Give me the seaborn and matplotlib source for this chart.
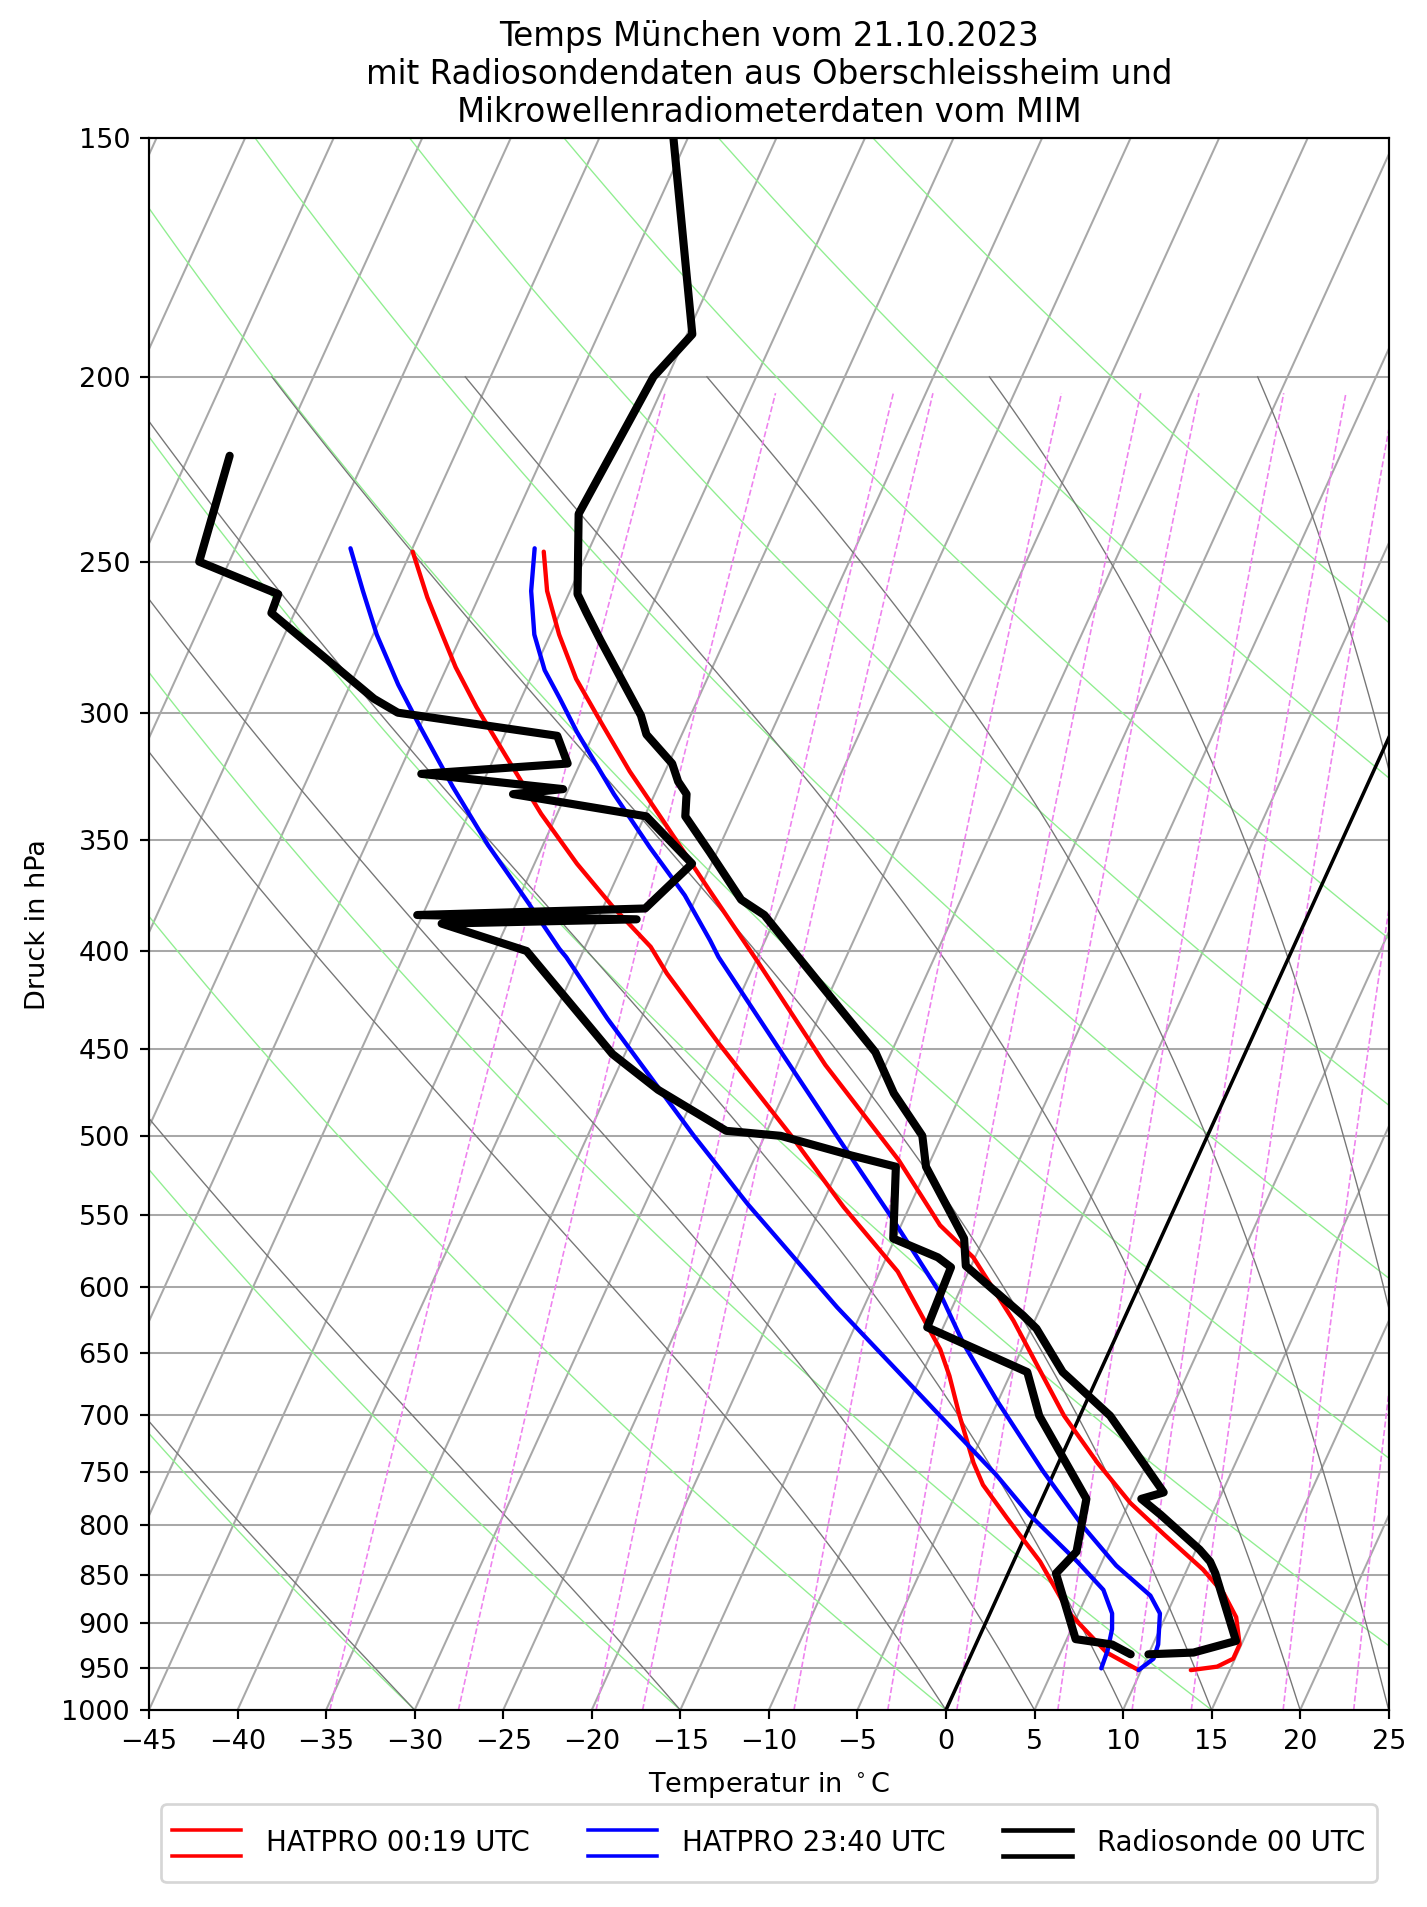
import numpy as np
import pandas as pd
import matplotlib
matplotlib.use("Agg")
import matplotlib.pyplot as plt
import seaborn as sns
from matplotlib.legend_handler import HandlerBase
from matplotlib.lines import Line2D
from matplotlib.ticker import NullLocator

# ---------------- data ----------------
title = ("Temps München vom 21.10.2023\n"
         "mit Radiosondendaten aus Oberschleissheim und\n"
         "Mikrowellenradiometerdaten vom MIM")
x_label = "Temperatur in $^\\circ$C"
y_label = "Druck in hPa"
x_ticks = list(range(-45, 26, 5))
p_ticks = list(range(150, 1001, 50))
legend_labels = ["HATPRO 00:19 UTC", "HATPRO 23:40 UTC", "Radiosonde 00 UTC"]

# Radiosonde 00 UTC  (pressure hPa, temperature degC)
sonde_T_p = [150, 190, 200, 236, 260, 266, 275, 301, 308, 319, 326, 331, 340, 355,
             376, 383, 405, 452, 475, 500, 519, 535, 566, 585, 621, 631, 665, 701,
             769, 775, 790, 824, 836, 848, 920, 933, 935]
sonde_T = [-55.8, -49.7, -50.8, -51.5, -49.5, -48.5, -47.0, -42.8, -42.0, -39.8, -39.0,
           -38.2, -37.7, -35.4, -32.4, -30.7, -27.4, -20.9, -18.8, -16.1, -15.1, -13.7,
           -11.1, -10.3, -5.8, -4.7, -2.1, 1.7, 6.7, 5.6, 7.1, 10.2, 11.1, 11.7, 14.6,
           12.5, 10.0]
sonde_Td_p = [220, 250, 260, 266, 295, 300, 308.5, 319, 323, 329, 331, 340, 360, 380,
              383, 385, 387, 400, 453, 473, 497, 500, 512, 519, 566, 579, 586, 630,
              665, 701, 775, 826, 848, 918, 924, 935]
sonde_Td = [-72.7, -71.7, -66.4, -66.3, -58.3, -56.6, -47.0, -45.7, -53.7, -45.3, -48.0,
            -39.9, -36.1, -37.6, -50.3, -37.8, -48.7, -43.2, -35.7, -32.2, -27.3, -24.1,
            -19.6, -16.8, -15.1, -12.1, -11.1, -10.9, -4.1, -2.3, 2.5, 3.3, 2.7, 5.5,
            7.7, 9.0]

# HATPRO 00:19 UTC
hat1_T_p = [247, 259, 273, 288, 304, 322, 344, 372, 405, 459, 515, 557, 579, 625,
            701, 742, 779, 809, 844, 869, 894, 924, 940, 949, 953]
hat1_T = [-52.5, -51.3, -49.5, -47.4, -44.8, -42.0, -38.5, -34.4, -29.9, -23.4, -16.8,
          -12.8, -10.1, -6.2, -0.9, 2.2, 5.1, 7.8, 10.9, 12.7, 14.0, 14.9, 14.9, 14.2, 12.8]
hat1_Td_p = [247, 261, 273, 284, 298, 316, 339, 360, 379, 398, 411, 447, 500, 545,
             589, 647, 668, 701, 742, 762, 793, 836, 890, 933, 953]
hat1_Td = [-59.9, -57.9, -56.1, -54.5, -52.3, -49.4, -45.9, -42.6, -39.5, -36.3, -34.7,
           -30.0, -23.5, -18.7, -14.0, -9.6, -8.4, -6.8, -4.8, -3.7, -1.5, 1.5, 4.5,
           7.6, 9.85]

# HATPRO 23:40 UTC
hat2_T_p = [246, 259, 273, 285, 295, 307, 331, 353, 374, 395, 403, 453, 507, 550,
            604, 643, 688, 749, 801, 840, 871, 890, 924, 940, 953]
hat2_T = [-53.1, -52.2, -50.9, -49.4, -47.8, -46.0, -42.3, -38.9, -35.7, -33.1, -32.2,
          -26.1, -20.2, -15.9, -11.1, -8.4, -5.1, -0.7, 3.0, 5.9, 8.6, 9.6, 10.3, 10.4, 9.85]
hat2_Td_p = [246, 259, 273, 290, 305, 328, 352, 377, 399, 403, 434, 500, 543, 615,
             700, 753, 790, 836, 865, 890, 907, 931, 951]
hat2_Td = [-63.5, -61.7, -59.8, -57.3, -55.0, -51.6, -48.1, -44.4, -41.4, -40.8, -36.9,
           -29.0, -24.2, -16.5, -8.0, -3.2, -0.3, 3.6, 5.8, 6.9, 7.3, 7.6, 7.7]

# background line families of the diagram
iso_T = list(range(-130, 30, 5))                       # isotherms degC
dry_t0 = list(range(-30, 121, 15))                     # dry adiabats, degC at 1000 hPa
moist_t0 = [-30, -15, 0, 5, 10, 15, 20, 25, 30, 35]    # moist adiabats, degC at 1000 hPa
mix_w = [0.2, 0.4, 0.8, 1, 2, 3, 4, 6, 8, 10, 14, 18]  # mixing ratio lines, g/kg

# ---------------- skew-T geometry ----------------
P_BOT, P_TOP = 1000.0, 150.0
T_MIN, T_MAX = -45.0, 25.0
SKEW = np.tan(np.radians(30.0)) * (T_MAX - T_MIN)
LOGSPAN = np.log(P_BOT / P_TOP)


def skew(t, p):
    t = np.asarray(t, float)
    p = np.asarray(p, float)
    return t + SKEW * np.log(P_BOT / p) / LOGSPAN


Rd, Cpd, Lv, EPS = 287.04749, 1004.6662, 2.50084e6, 0.6219569


def sat_vp(tk):
    return 6.112 * np.exp(17.67 * (tk - 273.15) / (tk - 29.65))


def moist_dTdp(p, tk):
    es = sat_vp(tk)
    rs = EPS * es / (p - es)
    frac = (Rd * tk + Lv * rs) / (Cpd + (Lv * Lv * rs * EPS) / (Rd * tk * tk))
    return frac / p


def family(curves):
    frames = [pd.DataFrame({"x": x, "p": p, "id": i}) for i, (x, p) in enumerate(curves)]
    return pd.concat(frames, ignore_index=True)


# isotherms
p2 = np.array([P_BOT, P_TOP])
iso_df = family([(skew(np.full(2, t), p2), p2) for t in iso_T])

# dry adiabats
p_dry = np.linspace(P_BOT, P_TOP, 150)
dry_df = family([(skew((t0 + 273.15) * (p_dry / 1000.0) ** (Rd / Cpd) - 273.15, p_dry), p_dry)
                 for t0 in dry_t0])

# moist adiabats (RK4 integration 1000 -> 200 hPa)
p_moist = np.arange(1000.0, 199.0, -2.0)
tk = np.array(moist_t0, float) + 273.15
out = [tk.copy()]
for i in range(len(p_moist) - 1):
    p0, h = p_moist[i], p_moist[i + 1] - p_moist[i]
    k1 = moist_dTdp(p0, tk)
    k2 = moist_dTdp(p0 + h / 2, tk + h / 2 * k1)
    k3 = moist_dTdp(p0 + h / 2, tk + h / 2 * k2)
    k4 = moist_dTdp(p0 + h, tk + h * k3)
    tk = tk + h / 6 * (k1 + 2 * k2 + 2 * k3 + k4)
    out.append(tk.copy())
moist_T = np.array(out) - 273.15
moist_df = family([(skew(moist_T[:, j], p_moist), p_moist) for j in range(len(moist_t0))])

# mixing-ratio lines
p_mix = np.linspace(1000.0, 204.0, 60)
mix_curves = []
for w in mix_w:
    wk = w / 1000.0
    e = p_mix * wk / (EPS + wk)
    v = np.log(e / 6.112)
    td = 243.5 * v / (17.67 - v)
    mix_curves.append((skew(td, p_mix), p_mix))
mix_df = family(mix_curves)

# ---------------- figure ----------------
DPI = 195
fig = plt.figure(figsize=(1427 / DPI, 1907 / DPI), dpi=DPI)
ax = fig.add_axes([149 / 1427, (1907 - 1710) / 1907, 1239.7 / 1427, 1571.5 / 1907])
ax.set_yscale("log")

grid_col = "#a8a8a8"
sns.lineplot(data=iso_df, x="x", y="p", units="id", estimator=None, sort=False,
             color=grid_col, linewidth=0.75, ax=ax, legend=False, zorder=1)
sns.lineplot(data=dry_df, x="x", y="p", units="id", estimator=None, sort=False,
             color="lightgreen", linewidth=0.5, ax=ax, legend=False, zorder=1.2)
sns.lineplot(data=moist_df, x="x", y="p", units="id", estimator=None, sort=False,
             color="#767676", linewidth=0.5, ax=ax, legend=False, zorder=1.2)
sns.lineplot(data=mix_df, x="x", y="p", units="id", estimator=None, sort=False,
             color="violet", linewidth=0.6, linestyle="--", ax=ax, legend=False, zorder=1.2)

# highlighted 0 degC isotherm
sns.lineplot(x=skew([0, 0], p2), y=p2, estimator=None, sort=False, color="black",
             linewidth=1.3, ax=ax, legend=False, zorder=2.5)


def prof(t, p, color, lw):
    sns.lineplot(x=skew(t, p), y=np.asarray(p, float), estimator=None, sort=False,
                 color=color, linewidth=lw, ax=ax, legend=False, zorder=3,
                 solid_joinstyle="round", solid_capstyle="round")


prof(hat1_T, hat1_T_p, "red", 1.6)
prof(hat1_Td, hat1_Td_p, "red", 1.6)
prof(hat2_T, hat2_T_p, "blue", 1.6)
prof(hat2_Td, hat2_Td_p, "blue", 1.6)
prof(sonde_T, sonde_T_p, "black", 3.0)
prof(sonde_Td, sonde_Td_p, "black", 3.0)

ax.set_xlim(T_MIN, T_MAX)
ax.set_ylim(P_BOT, P_TOP)
ax.set_xticks(x_ticks)
ax.set_yticks(p_ticks)
ax.set_yticklabels([str(v) for v in p_ticks])
ax.yaxis.set_minor_locator(NullLocator())
ax.tick_params(labelsize=10)
ax.yaxis.grid(True, color=grid_col, linewidth=0.75)
ax.set_axisbelow(True)
ax.set_xlabel(x_label, fontsize=10, labelpad=5.5)
ax.set_ylabel(y_label, fontsize=10)
ax.set_title(title, fontsize=12)


class TwoLines(HandlerBase):
    def create_artists(self, legend, orig_handle, xdescent, ydescent, width, height,
                       fontsize, trans):
        yc = -ydescent + height / 2.0
        off = 0.46 * fontsize
        arts = []
        for y in (yc + off, yc - off):
            ln = Line2D([-xdescent, -xdescent + width], [y, y],
                        color=orig_handle.get_color(), linewidth=orig_handle.get_linewidth(),
                        transform=trans)
            arts.append(ln)
        return arts


handles = [Line2D([], [], color="red", linewidth=1.3),
           Line2D([], [], color="blue", linewidth=1.3),
           Line2D([], [], color="black", linewidth=1.7)]
ax.legend(handles=handles, labels=legend_labels, handler_map={Line2D: TwoLines()},
          loc="upper center", bbox_to_anchor=(0.5, -0.0598), borderaxespad=0, ncol=3,
          fontsize=10.2, handlelength=2.5, handletextpad=0.9, columnspacing=2.1,
          handleheight=2.75)

fig.savefig("out.png", dpi=DPI)
